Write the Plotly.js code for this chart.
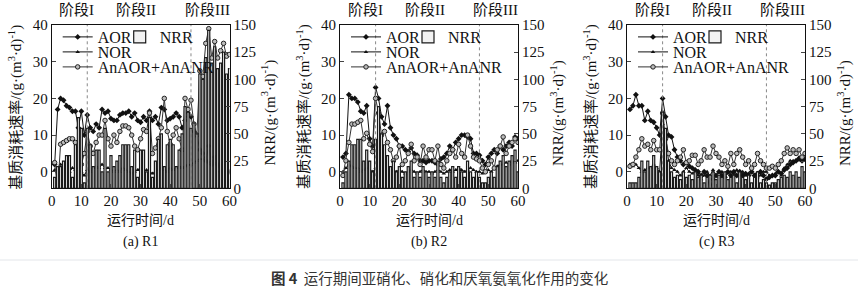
<!DOCTYPE html>
<html><head><meta charset="utf-8">
<script src="https://cdn.plot.ly/plotly-3.0.1.min.js"></script>
<style>html,body{margin:0;padding:0;background:#fff}#chart{width:858px;height:289px}</style>
</head><body><div id="chart"></div>
<script>
const days = [1,2,3,4,5,6,7,8,9,10,11,12,13,14,15,16,17,18,19,20,21,22,23,24,25,26,27,28,29,30,31,32,33,34,35,36,37,38,39,40,41,42,43,44,45,46,47,48,49,50,51,52,53,54,55,56,57,58,59,60];
const stageBounds = [12, 47];
const stageLabels = ["阶段I", "阶段II", "阶段III"];
const stageLabelDays = [8.5, 28.5, 52.5];
const panelCaptions = ["(a) R1", "(b) R2", "(c) R3"];
const seriesNames = ["AOR", "NOR", "AnAOR+AnANR", "NRR"];

// R1
const r1AOR = [2,17,20,19.5,18,17.5,16.5,16.5,12,16.5,10,15.5,12,11,13,12,17,16,16.5,14.5,14,14,15.5,16,16,16.5,15,16,14,13.5,15,14,16.5,14,15,13,17.5,17,14,14.5,15,16,15,12,14,16,15,11,10,6,5,3,7,2,4,2,0,2,-2,0];
const r1NOR = [0.5,0,2,1.5,1,0,1,0.5,1,0,-1,0.5,0,1,1.5,1,2,1,1,0.5,0,0.5,0,1,0.5,0,-0.5,0,0.5,1,0,0.5,0,-0.5,0,0.5,1,0.5,0,1,0.5,1,1.5,1,1.5,2,2,2.5,3,3.5,3.5,3,2.5,3,2.5,2,1.5,1,0.5,0];
const r1AN = [2.5,-5,7.5,8,8.5,9,9,8,6,2,5,11,7,5,8,10,10,14,9,7,10,8,11,12.5,12.5,12,10,7,6,9,11.5,11,16,5,6.5,9,12,20,11,7.5,10,12,9,6,20,17,19.5,13,10,27.5,26,35,39,31,35.5,31,33,35,31.5,32];
const r1NRR = [10,20,20,25,30,30,10,40,65,55,5,55,40,20,35,35,15,55,15,30,20,25,30,40,40,40,20,35,10,35,35,15,65,10,25,45,50,20,40,45,40,20,35,50,75,70,55,60,50,105,100,120,145,115,130,110,115,125,105,110];

// R2
const r2AOR = [4,5,21,20,20,19,16.5,16,18,9,7,23,20,15,13,18,12,10,9,7,7,6,5.5,6.5,5,4.5,3,3,2.5,3,3,2.5,2,3.5,4,5,7,6,8,9,10,10,9.5,9,5,5,4.5,3,2,4,5,6,5,7,6,7,8,7,9.5,9];
const r2NOR = [0,1,2,1.5,1,1,0,0.5,1,0.5,0,1,1.5,1,0.5,0,-0.5,0.5,0,0.5,0,-0.5,0,0.5,0,-0.5,0,0.5,0,0,-0.5,0,0.5,0,-0.5,0,0.5,0,0.5,1,0.5,0,0.5,1,0.5,0,0,-0.5,0,0.5,0,1,1.5,2,2,2.5,2,3,2.5,3];
const r2AN = [-1,3,8,13,13,13.5,14,9,10.5,7.5,5.5,20,16,10,11,8,6,3,4,7,2,3,5,7.5,3,4,2,7,4,6,6,3,7,2,1,3,5,6,4,7.5,5,4,10,7,4,3.5,3,1,0,2,3,1,6,7,9.5,5,7,8,9,8];
const r2NRR = [5,15,25,40,40,45,45,25,35,25,15,45,75,50,40,30,20,25,15,20,10,15,20,25,10,15,10,20,15,10,15,10,25,10,5,10,15,20,10,20,15,10,25,15,10,15,10,5,5,10,15,10,20,25,30,20,25,30,35,15];

// R3
const r3AOR = [17,18,21,18,18,14,16.5,14,13.5,12,10,20,15,10,9.5,6,4,3,2,2.5,1.5,1,0.5,0,-1,0,-1,-5,-2,-1,0,-1,-1.5,0,-1,0,-1,0,-1,-0.5,-1,0,-1,-0.5,0,-1,-2,-1.5,-1,-1,0,-0.5,0.5,1,2,2.5,3,3.5,3,3.5];
const r3NOR = [2,1.5,2,1,0,0.5,1,1,2,1,0,13,10,3,1,0.5,0,-1,0,1,0,-0.5,0,-1,-2,-1,0,-1,0.5,-1,-1.5,0,-1,-0.5,0,-1,0.5,-1,0,-1,-0.5,0,-1,-1.5,-1,0,0,-1,-1,-0.5,0,-1,1,2,3,3,3,4,3,3];
const r3AN = [1.5,2,4,6,9,7,7.5,6,8.5,6,6,16,9,5,3,2,3,4,6,2.5,3,4.5,4.5,2,3,6,4,4,7,5,4,2,3,1.5,5,2,5,6,4,2,3,1,2,5,3,2,1,1,1.5,1,2,3,5,6.5,5,6,5,6,4,5];
const r3NRR = [5,5,5,10,25,15,25,20,30,20,15,70,55,25,15,10,12,8,15,10,12,8,15,10,12,5,10,12,15,8,12,10,15,8,10,12,5,15,10,8,12,5,10,15,5,8,5,3,5,5,8,10,12,10,15,12,15,10,20,15];

const panels = [
  {aor:r1AOR, nor:r1NOR, an:r1AN, nrr:r1NRR, x0:51.7, x1:229.5},
  {aor:r2AOR, nor:r2NOR, an:r2AN, nrr:r2NRR, x0:340, x1:518},
  {aor:r3AOR, nor:r3NOR, an:r3AN, nrr:r3NRR, x0:627, x1:805}
];

const W = 858, H = 289;
const yTop = 25, yBot = 188.3;
const SERIF = "Liberation Serif, Times New Roman, Noto Sans CJK SC, serif";
const CJK = "Liberation Serif, Noto Sans CJK SC, serif";

const data = [];
const layout = {
  width: W, height: H, margin: {l:0, r:0, t:0, b:0},
  paper_bgcolor: "#fff", plot_bgcolor: "#fff",
  showlegend: true, bargap: 0.3,
  font: {family: SERIF, size: 14, color: "#111"},
  annotations: [], shapes: []
};

function ann(o) {
  return Object.assign({xref:"paper", yref:"paper", showarrow:false, xanchor:"center", yanchor:"middle"}, o);
}

panels.forEach((p, i) => {
  const xa = i === 0 ? "x" : "x" + (i + 1);
  const yl = i === 0 ? "y" : "y" + (2 * i + 1);
  const yr = "y" + (2 * i + 2);
  const xk = i === 0 ? "xaxis" : "xaxis" + (i + 1);
  const ylk = i === 0 ? "yaxis" : "yaxis" + (2 * i + 1);
  const yrk = "yaxis" + (2 * i + 2);
  const lg = [0,1,2,3].map(k => { const n = 4 * i + k + 1; return n === 1 ? "legend" : "legend" + n; });
  const dom = [p.x0 / W, p.x1 / W];
  const ydom = [(H - yBot) / H, (H - yTop) / H];

  data.push({type:"bar", x:days, y:p.nrr, xaxis:xa, yaxis:yr, name:seriesNames[3], legend:lg[3],
    marker:{color:"#f2f2f2", line:{color:"#1a1a1a", width:1.2}}});
  data.push({type:"scatter", mode:"lines+markers", x:days, y:p.aor, xaxis:xa, yaxis:yl, name:seriesNames[0], legend:lg[0],
    line:{color:"#111", width:1}, marker:{symbol:"diamond", size:4.5, color:"#111"}});
  data.push({type:"scatter", mode:"lines+markers", x:days, y:p.nor, xaxis:xa, yaxis:yl, name:seriesNames[1], legend:lg[1],
    line:{color:"#111", width:1}, marker:{symbol:"triangle-up", size:4, color:"#111"}});
  data.push({type:"scatter", mode:"lines+markers", x:days, y:p.an, xaxis:xa, yaxis:yl, name:seriesNames[2], legend:lg[2],
    line:{color:"#333", width:1}, marker:{symbol:"circle", size:4.5, color:"#bbb", line:{color:"#222", width:1}}});

  const tf = {family:SERIF, size:15, color:"#111"};
  layout[xk] = {domain:dom, anchor:yl, range:[0,60], tickvals:[0,10,20,30,40,50,60], ticks:"inside", ticklen:4,
    showline:true, linecolor:"#111", linewidth:1, mirror:true, showgrid:false, zeroline:false, tickfont:tf,
    ticklabelstandoff:-1};
  layout[ylk] = {domain:ydom, anchor:xa, range:[-4.5,40], tickvals:[0,10,20,30,40], ticks:"inside", ticklen:4,
    showline:true, linecolor:"#111", linewidth:1, showgrid:false, zeroline:false, tickfont:tf};
  layout[yrk] = {domain:ydom, anchor:xa, overlaying:yl, side:"right", range:[0,150], tickvals:[0,25,50,75,100,125,150],
    ticks:"inside", ticklen:4, showline:true, linecolor:"#111", linewidth:1, showgrid:false, zeroline:false, tickfont:tf};

  const lf = {family:SERIF, size:16, color:"#111"};
  const legPos = [[p.x0 + 6, 20], [p.x0 + 6, 35], [p.x0 + 6, 50], [p.x0 + 68, 20]];
  lg.forEach((name, k) => {
    layout[name] = {x:legPos[k][0] / W, xanchor:"left", y:(H - legPos[k][1]) / H, yanchor:"top",
      bgcolor:"rgba(0,0,0,0)", font:lf, itemwidth:30};
  });

  stageBounds.forEach(d => {
    layout.shapes.push({type:"line", xref:xa, yref:yl + " domain", x0:d, x1:d, y0:0, y1:1,
      line:{color:"#888", width:1, dash:"dot"}});
  });
  stageLabels.forEach((t, k) => {
    layout.annotations.push(ann({text:t, xref:xa, x:stageLabelDays[k], y:(H - 10) / H,
      font:{family:CJK, size:15, color:"#111"}}));
  });
  const cx = (p.x0 + p.x1) / 2 / W;
  layout.annotations.push(ann({text:"运行时间/d", x:cx, y:(H - 220) / H, font:{family:CJK, size:14, color:"#111"}}));
  layout.annotations.push(ann({text:panelCaptions[i], x:cx, y:(H - 242) / H, font:{family:SERIF, size:14, color:"#111"}}));
  layout.annotations.push(ann({text:"基质消耗速率/(g·(m<sup>3</sup>·d)<sup>-1</sup>)",
    x:(p.x0 - 37) / W, y:(H - 107) / H, textangle:-90, font:{family:CJK, size:15, color:"#111"}}));
  layout.annotations.push(ann({text:"NRR/(g·(m<sup>3</sup>·d)<sup>-1</sup>)",
    x:(p.x1 + 39) / W, y:(H - 113) / H, textangle:-90, font:{family:SERIF, size:15, color:"#111"}}));
});

layout.shapes.push({type:"line", xref:"paper", yref:"paper", x0:0, x1:1, y0:(H - 260) / H, y1:(H - 260) / H,
  line:{color:"#e3e6ea", width:1}});
layout.annotations.push(ann({text:"<b>图 4</b>  运行期间亚硝化、硝化和厌氧氨氧化作用的变化",
  x:440 / W, y:(H - 277) / H, font:{family:"Noto Sans CJK SC, sans-serif", size:14.5, color:"#333"}}));

Plotly.newPlot("chart", data, layout, {staticPlot:true, displayModeBar:false});
</script></body></html>
